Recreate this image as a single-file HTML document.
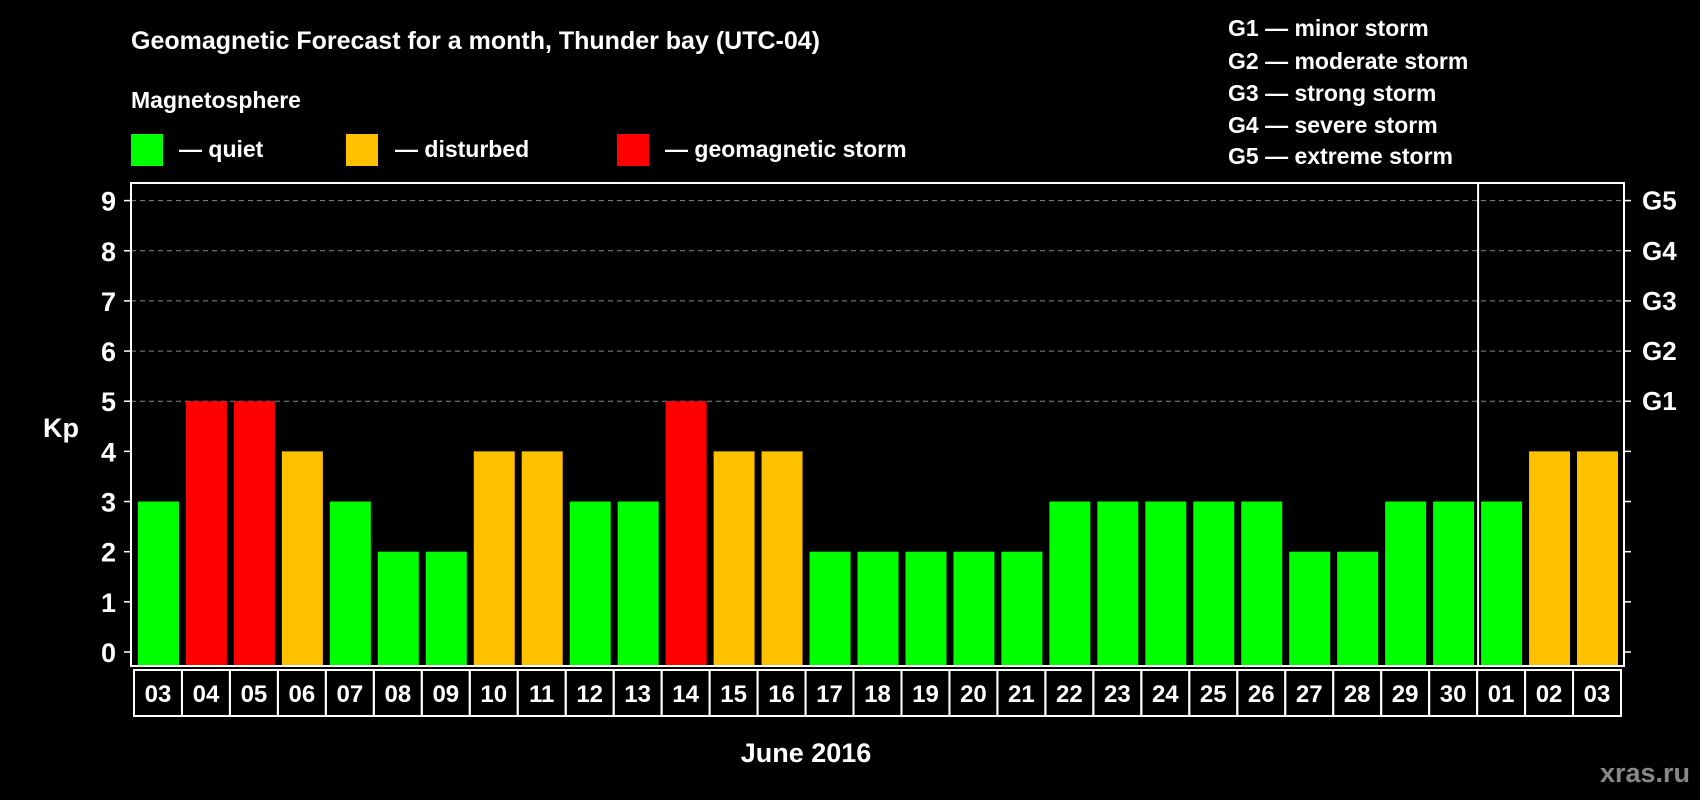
<!DOCTYPE html>
<html><head><meta charset="utf-8"><style>
html,body{margin:0;padding:0;background:#000;width:1700px;height:800px;overflow:hidden}
svg{display:block;font-family:"Liberation Sans",Arial,sans-serif;font-weight:bold}
</style></head><body>
<svg id="chart" width="1700" height="800" viewBox="0 0 1700 800">
<text x="131" y="49" fill="#fff" font-size="25">Geomagnetic Forecast for a month, Thunder bay (UTC-04)</text>
<text x="131" y="108" fill="#fff" font-size="23">Magnetosphere</text>
<rect x="131" y="134" width="32" height="32" fill="#00ff00"/>
<text x="179" y="157" fill="#fff" font-size="23">— quiet</text>
<rect x="346" y="134" width="32" height="32" fill="#ffc000"/>
<text x="395" y="157" fill="#fff" font-size="23">— disturbed</text>
<rect x="617" y="134" width="32" height="32" fill="#ff0000"/>
<text x="665" y="157" fill="#fff" font-size="23">— geomagnetic storm</text>
<g fill="#fff" font-size="23">
<text x="1228" y="36">G1 — minor storm</text>
<text x="1228" y="69">G2 — moderate storm</text>
<text x="1228" y="101">G3 — strong storm</text>
<text x="1228" y="133">G4 — severe storm</text>
<text x="1228" y="164">G5 — extreme storm</text>
</g>
<text x="43" y="437" fill="#fff" font-size="27">Kp</text>
<text x="806" y="762" fill="#fff" font-size="27" text-anchor="middle">June 2016</text>
<text x="1690" y="782" fill="#888" font-size="27" text-anchor="end">xras.ru</text>
<g id="grid"></g><g id="bars"></g><g id="axes"></g><g id="cats"></g>
</svg>
<script>
const categories=["03","04","05","06","07","08","09","10","11","12","13","14","15","16","17","18","19","20","21","22","23","24","25","26","27","28","29","30","01","02","03"];
const kpValues=[3,5,5,4,3,2,2,4,4,3,3,5,4,4,2,2,2,2,2,3,3,3,3,3,2,2,3,3,3,4,4];
const yTicks=[0,1,2,3,4,5,6,7,8,9];
const gLabels=["G1","G2","G3","G4","G5"];
const gLevels=[5,6,7,8,9];
const monthBreakIndex=28;
const NS="http://www.w3.org/2000/svg";
const L=131,R=1624,T=183,B=666;
const y=v=>652-(652-200.6)*v/9;
const pitch=(R-L-6)/categories.length;
const x=i=>L+3+i*pitch;
function mk(tag,attrs,parent){const e=document.createElementNS(NS,tag);for(const k in attrs)e.setAttribute(k,attrs[k]);parent.appendChild(e);return e;}
const grid=document.getElementById('grid'),bars=document.getElementById('bars'),axes=document.getElementById('axes'),cats=document.getElementById('cats');
gLevels.forEach((lv,i)=>{
 const l=mk('line',{x1:L,x2:R,y1:y(lv),y2:y(lv),stroke:'#888','stroke-dasharray':'5,4','stroke-width':1},grid);
 
 
 const t=mk('text',{x:1642,y:y(lv)+9,fill:'#fff','font-size':26},axes);t.textContent=gLabels[i];
 
 
});
kpValues.forEach((v,i)=>{
 const c=v>=5?'#ff0000':(v>=4?'#ffc000':'#00ff00');
 const r=mk('rect',{x:x(i)+4,y:y(v),width:pitch-7,height:B-y(v),fill:c},bars);
 
 
});
const box=mk('rect',{x:L,y:T,width:R-L,height:B-T,fill:'none',stroke:'#fff','stroke-width':2},axes);


const sx=x(monthBreakIndex)+1;
const sep=mk('line',{x1:sx,x2:sx,y1:T,y2:B,stroke:'#fff','stroke-width':2},axes);


yTicks.forEach(v=>{
 mk('line',{x1:L-7,x2:L,y1:y(v),y2:y(v),stroke:'#fff','stroke-width':1.5},axes);
 mk('line',{x1:R,x2:R+7,y1:y(v),y2:y(v),stroke:'#fff','stroke-width':1.5},axes);
 const t=mk('text',{x:116,y:y(v)+10,fill:'#fff','font-size':27,'text-anchor':'end'},axes);t.textContent=v;
 
 
});
categories.forEach((c,i)=>{
 const r=mk('rect',{x:x(i),y:670,width:pitch,height:46,fill:'none',stroke:'#fff','stroke-width':2},cats);
 
 
 const t=mk('text',{x:x(i)+pitch/2,y:702,fill:'#fff','font-size':24,'text-anchor':'middle'},cats);t.textContent=c;
 
 
});
</script>
</body></html>
